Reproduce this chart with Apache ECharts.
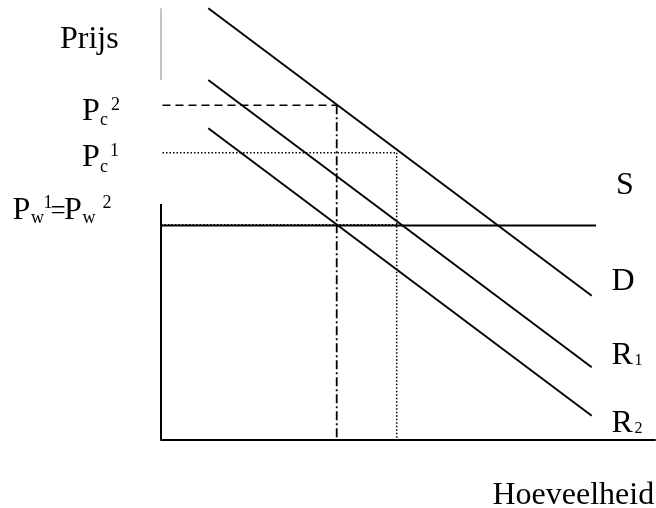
<!DOCTYPE html>
<html>
<head>
<meta charset="utf-8">
<script src="https://cdn.jsdelivr.net/npm/echarts@6/dist/echarts.min.js"></script>
<style>
html,body{margin:0;padding:0;background:#fff;}
#chart{width:656px;height:508px;}
</style>
</head>
<body>
<div id="chart"></div>
<script>
// Data (quantity on x, price on y, arbitrary units 0..100)
const lineD  = [[9.57, 99.93], [87.19, 33.40]];
const lineR1 = [[9.57, 83.33], [87.19, 16.83]];
const lineR2 = [[9.57, 72.15], [87.19, 5.63]];
const lineS  = [[0, 49.65], [88.06, 49.65]];
const pc2H   = [[0.3, 77.48], [35.57, 77.48]];
const pc2V   = [[35.57, 77.48], [35.57, 0]];
const pc1H   = [[0.3, 66.5], [47.71, 66.5]];
const pc1V   = [[47.71, 66.5], [47.71, 0]];
const pwH    = [[0, 49.85], [47.71, 49.85]];
const yAxisSeg = [[0, 0], [0, 54.63]];
const prijsSeg = [[0, 83.33], [0, 99.93]];

const FONT = '"Liberation Serif", "Times New Roman", serif';
const BIG = 32, SUP = 18, SUB_R = 16;

function seg(data, color, width, type, z) {
  return {
    type: 'line', data: data, symbol: 'none', clip: false, silent: true,
    animation: false, z: z || 2,
    lineStyle: { color: color, width: width, type: type || 'solid', cap: 'butt' }
  };
}

// text piece: left x, baseline y, size
function txt(s, x, baseline, size) {
  return {
    type: 'text', left: x, top: baseline - size * 0.72, silent: true,
    style: { text: s, font: size + 'px ' + FONT, fill: '#000' }
  };
}

const chart = echarts.init(document.getElementById('chart'), null, { renderer: 'canvas' });
chart.setOption({
  animation: false,
  backgroundColor: '#fff',
  grid: { left: 161, right: 1, top: 8, bottom: 68 },
  xAxis: {
    type: 'value', min: 0, max: 100,
    axisLine: { show: true, lineStyle: { color: '#000', width: 2 } },
    axisTick: { show: false }, axisLabel: { show: false }, splitLine: { show: false }
  },
  yAxis: {
    type: 'value', min: 0, max: 100,
    axisLine: { show: false }, axisTick: { show: false },
    axisLabel: { show: false }, splitLine: { show: false }
  },
  series: [
    seg(yAxisSeg, '#000', 2),
    seg(prijsSeg, '#8a8a8a', 1),
    seg(lineD, '#000', 1.9),
    seg(lineR1, '#000', 1.9),
    seg(lineR2, '#000', 1.9),
    seg(lineS, '#000', 2),
    seg(pc2H, '#000', 1.6, [8, 5]),
    seg(pc2V, '#000', 1.8, [9, 3, 2, 3]),
    seg(pc1H, '#000', 1.5, [1.5, 2]),
    seg(pc1V, '#000', 1.5, [1.5, 2]),
    seg(pwH, '#000', 1.5, [1.5, 2], 3)
  ],
  graphic: [
    txt('Prijs', 60, 47, BIG),
    txt('P', 82, 119, BIG), txt('c', 100, 124, SUP), txt('2', 111, 109, SUP),
    txt('P', 82, 165, BIG), txt('c', 100, 171, SUP), txt('1', 110, 155, SUP),
    txt('P', 12.5, 218, BIG), txt('w', 31, 222, SUP), txt('1', 43.5, 207, SUP),
    txt('=', 50.5, 218, 27),
    txt('P', 64, 218, BIG), txt('w', 82.5, 222, SUP), txt('2', 102.5, 207, SUP),
    txt('S', 616, 193, BIG),
    txt('D', 611.5, 289, BIG),
    txt('R', 611.5, 363, BIG), txt('1', 634.5, 364, SUB_R),
    txt('R', 611.5, 431, BIG), txt('2', 634.5, 432, SUB_R),
    txt('Hoeveelheid', 492.5, 503, BIG)
  ]
});
</script>
</body>
</html>
